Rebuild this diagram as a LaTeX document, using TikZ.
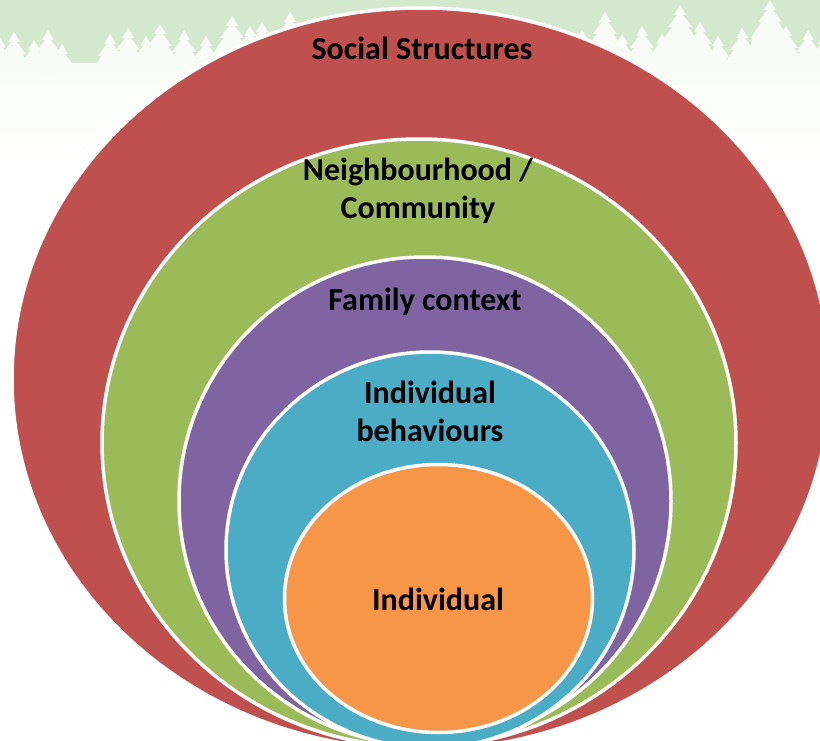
\documentclass[tikz,border=0pt]{standalone}
\usepackage{fontspec}
\setmainfont{Carlito}
\usepackage{xcolor}
\usetikzlibrary{positioning}

\definecolor{forestGreen}{HTML}{D3E8CC}
\definecolor{treeWhite}{HTML}{F8FCF6}
\definecolor{ringRed}{HTML}{C0504D}
\definecolor{ringGreen}{HTML}{9BBB59}
\definecolor{ringPurple}{HTML}{8064A2}
\definecolor{ringBlue}{HTML}{4BACC6}
\definecolor{ringOrange}{HTML}{F79646}

\begin{document}
\begin{tikzpicture}[x=1pt, y=-1pt,
		Ring/.style={draw=white, line width=3.5pt},
		RingLabel/.style={font=\fontsize{32}{38}\selectfont\bfseries, align=center, text=black}]

	\useasboundingbox (0,0) rectangle (820,741);
	\clip (0,0) rectangle (820,741);

	% forest edge along the top
	\fill[forestGreen] (0,0) rectangle (820,72);
	\shade[top color=treeWhite, bottom color=white] (0,64) rectangle (820,160);
	\foreach \x/\t in {0/38, 14/32, 34/40, 48/30, 62/44, 110/34, 128/28, 146/36, 160/24, 184/30, 206/36, 232/16, 250/26, 262/22, 290/12, 312/26,
			520/30, 545/22, 562/34, 582/30, 605/12, 622/34, 642/26, 662/34, 680/5, 700/22, 718/36, 742/28, 770/0, 786/26, 808/30, 824/34}
		\fill[treeWhite] (\x,\t) -- (\x+6,\t+10) -- (\x+3,\t+10) -- (\x+12,\t+22) -- (\x+8,\t+22) -- (\x+18,\t+36)
			-- (\x+22,72) -- (\x-22,72) -- (\x-18,\t+36) -- (\x-8,\t+22) -- (\x-12,\t+22) -- (\x-3,\t+10) -- (\x-6,\t+10) -- cycle;

	% nested rings, outermost first
	\filldraw[Ring, fill=ringRed] (421,379) ellipse [x radius=409, y radius=371];
	\filldraw[Ring, fill=ringGreen] (419,443) ellipse [x radius=317, y radius=304];
	\filldraw[Ring, fill=ringPurple] (425,501) ellipse [x radius=246, y radius=244];
	\filldraw[Ring, fill=ringBlue] (430,550) ellipse [x radius=204, y radius=198];
	\filldraw[Ring, fill=ringOrange] (438.5,598.5) ellipse [x radius=154, y radius=134];

	\node[RingLabel] (social) at (422,48) {Social Structures};
	\node[RingLabel] (community) at (418,191) {Neighbourhood /\\Community};
	\node[RingLabel] (family) at (425,302) {Family context};
	\node[RingLabel] (behaviour) at (430,411) {Individual\\behaviours};
	\node[RingLabel] (individual) at (438,599) {Individual};
\end{tikzpicture}
\end{document}
